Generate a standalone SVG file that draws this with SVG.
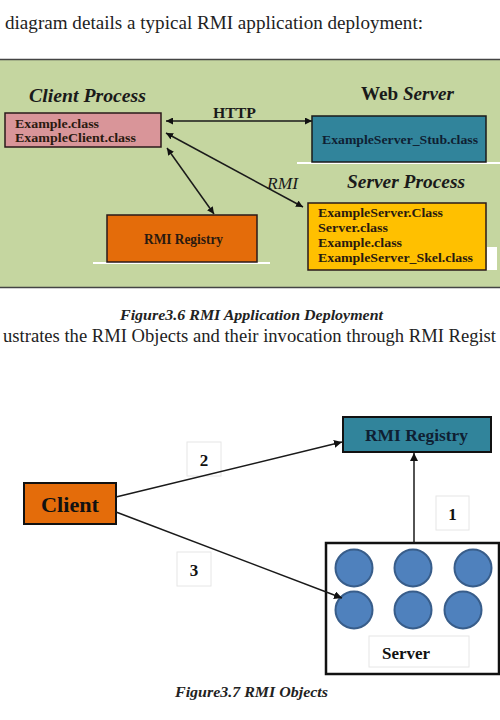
<svg xmlns="http://www.w3.org/2000/svg" width="500" height="720" viewBox="0 0 500 720">
<style>
.body{font-family:"Liberation Serif","Times New Roman",serif;font-size:19px;fill:#222}
.cap{font-family:"Liberation Serif","Times New Roman",serif;font-size:15px;font-weight:bold;font-style:italic;fill:#222}
.title{font-family:"Liberation Serif",serif;font-size:18px;font-weight:bold;font-style:italic;fill:#1a1a1a}
.cls{font-family:"Liberation Serif",serif;font-size:13px;font-weight:bold;fill:#2a1a10}
.con{stroke:#1a1a1a;stroke-width:1.5;fill:none}
.lbl{fill:#fff;stroke:#e6e6e6;stroke-width:1}
.num{font-family:"Liberation Serif",serif;font-size:17px;font-weight:bold;fill:#111;text-anchor:middle}
.obj{fill:#4f81bd;stroke:#385d8a;stroke-width:2}
</style>
<defs>
<marker id="ah" viewBox="0 0 10 10" refX="10" refY="5" markerWidth="7" markerHeight="7" orient="auto-start-reverse" markerUnits="userSpaceOnUse">
<path d="M0,0 L10,5 L0,10 z" fill="#111"/>
</marker>
<marker id="ah2" viewBox="0 0 10 10" refX="10" refY="5" markerWidth="8" markerHeight="8" orient="auto-start-reverse" markerUnits="userSpaceOnUse">
<path d="M0,0 L10,5 L0,10 z" fill="#111"/>
</marker>
</defs>
<rect width="500" height="720" fill="#fff"/>
<text class="body" x="5" y="29" textLength="418" lengthAdjust="spacingAndGlyphs">diagram details a typical RMI application deployment:</text>

<g id="panel">
<rect x="0" y="59" width="500" height="229" fill="#c5d6a0"/>
<line x1="0" y1="59.5" x2="500" y2="59.5" stroke="#444" stroke-width="1.5"/>
<line x1="0" y1="287.5" x2="500" y2="287.5" stroke="#444" stroke-width="1.5"/>
<rect x="297" y="162" width="203" height="2" fill="#fff"/>
<rect x="93" y="262" width="177" height="2" fill="#fff"/>
<rect x="487" y="247" width="10" height="23" fill="#fff"/>
</g>

<g id="connectors-top">
<line class="con" x1="166" y1="121" x2="312" y2="121" marker-start="url(#ah)" marker-end="url(#ah)"/>
<line class="con" x1="166" y1="133" x2="303" y2="207" marker-start="url(#ah)" marker-end="url(#ah)"/>
<line class="con" x1="167" y1="148" x2="214" y2="214" marker-start="url(#ah)" marker-end="url(#ah)"/>
<text x="213" y="118" font-family="Liberation Serif,serif" font-size="15.5" font-weight="bold" fill="#1a1a1a" textLength="43" lengthAdjust="spacingAndGlyphs">HTTP</text>
<text x="267" y="189" font-family="Liberation Serif,serif" font-size="17" font-style="italic" fill="#1a1a1a" textLength="31" lengthAdjust="spacingAndGlyphs">RMI</text>
</g>

<g id="client-process">
<text class="title" x="29" y="102" textLength="117" lengthAdjust="spacingAndGlyphs">Client Process</text>
<rect x="5" y="113" width="156" height="34" fill="#d99599" stroke="#2a1a1a" stroke-width="1.5"/>
<text class="cls" x="15" y="128" textLength="84" lengthAdjust="spacingAndGlyphs">Example.class</text>
<text class="cls" x="15" y="142" textLength="121" lengthAdjust="spacingAndGlyphs">ExampleClient.class</text>
</g>

<g id="web-server">
<text class="title" x="361" y="100" textLength="93" lengthAdjust="spacingAndGlyphs"><tspan font-style="normal">Web</tspan> Server</text>
<rect x="312" y="116" width="174" height="46" fill="#31849b" stroke="#1a1a1a" stroke-width="1.5"/>
<text class="cls" x="322" y="144" style="fill:#0f1f33" textLength="156" lengthAdjust="spacingAndGlyphs">ExampleServer_Stub.class</text>
</g>

<g id="rmi-registry-top">
<rect x="107" y="215" width="150" height="47" fill="#e46c0a" stroke="#2a1a1a" stroke-width="1.5"/>
<text class="cls" x="144" y="244" style="font-size:14px" textLength="79" lengthAdjust="spacingAndGlyphs">RMI Registry</text>
</g>

<g id="server-process">
<text class="title" x="347" y="188" textLength="118" lengthAdjust="spacingAndGlyphs">Server Process</text>
<rect x="308" y="203" width="178" height="67" fill="#ffc000" stroke="#2a1a1a" stroke-width="1.5"/>
<text class="cls" x="318" y="217" textLength="125" lengthAdjust="spacingAndGlyphs">ExampleServer.Class</text>
<text class="cls" x="318" y="232" textLength="70" lengthAdjust="spacingAndGlyphs">Server.class</text>
<text class="cls" x="318" y="247" textLength="84" lengthAdjust="spacingAndGlyphs">Example.class</text>
<text class="cls" x="318" y="262" textLength="155" lengthAdjust="spacingAndGlyphs">ExampleServer_Skel.class</text>
</g>

<text class="cap" x="120" y="320" textLength="263" lengthAdjust="spacingAndGlyphs">Figure3.6 RMI Application Deployment</text>
<text class="body" x="3" y="342" style="font-size:18.5px" textLength="493" lengthAdjust="spacingAndGlyphs">ustrates the RMI Objects and their invocation through RMI Regist</text>

<g id="label-2"><rect class="lbl" x="187" y="442" width="34" height="34"/><text class="num" x="204" y="466">2</text></g>
<g id="label-3"><rect class="lbl" x="177" y="552" width="34" height="34"/><text class="num" x="194" y="576">3</text></g>
<g id="label-1"><rect class="lbl" x="436" y="496" width="33" height="34"/><text class="num" x="452.5" y="520">1</text></g>

<g id="client">
<rect x="24" y="483" width="92" height="41" fill="#e46c0a" stroke="#111" stroke-width="2"/>
<text x="41" y="512" font-family="Liberation Serif,serif" font-size="22" font-weight="bold" fill="#111" textLength="58" lengthAdjust="spacingAndGlyphs">Client</text>
</g>

<g id="rmi-registry">
<rect x="343" y="417" width="148" height="35" fill="#31849b" stroke="#111" stroke-width="2"/>
<text x="365" y="441" font-family="Liberation Serif,serif" font-size="17.5" font-weight="bold" fill="#0f1f33" textLength="103" lengthAdjust="spacingAndGlyphs">RMI Registry</text>
</g>

<g id="server">
<rect x="326" y="543" width="173" height="131" fill="#fff" stroke="#111" stroke-width="2.5"/>
<circle class="obj" cx="354" cy="568" r="18.5"/>
<circle class="obj" cx="413" cy="568" r="18.5"/>
<circle class="obj" cx="473" cy="568" r="18.5"/>
<circle class="obj" cx="354" cy="610" r="18.5"/>
<circle class="obj" cx="413" cy="610" r="18.5"/>
<circle class="obj" cx="463" cy="610" r="18.5"/>
<rect class="lbl" x="369" y="636" width="100" height="31"/>
<text x="382" y="659" font-family="Liberation Serif,serif" font-size="17" font-weight="bold" fill="#111">Server</text>
</g>

<g id="connectors">
<line class="con" x1="116" y1="497" x2="342" y2="442" marker-end="url(#ah2)"/>
<line class="con" x1="116" y1="512" x2="342" y2="598" marker-end="url(#ah2)"/>
<line class="con" x1="414" y1="543" x2="414" y2="453" marker-end="url(#ah2)"/>
</g>

<text class="cap" x="175" y="697" textLength="153" lengthAdjust="spacingAndGlyphs">Figure3.7 RMI Objects</text>
</svg>
